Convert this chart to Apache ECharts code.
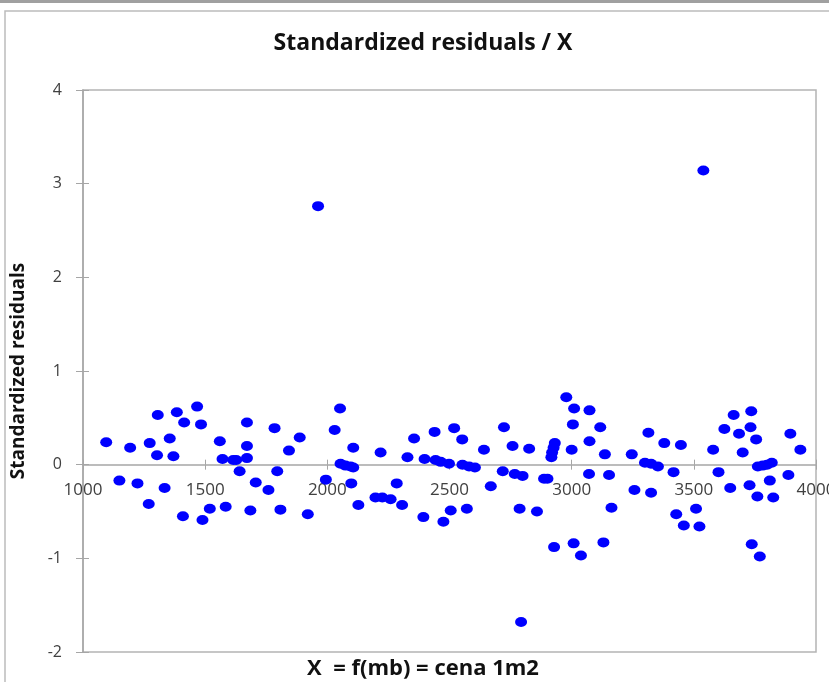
<!DOCTYPE html>
<html>
<head>
<meta charset="utf-8">
<script src="https://cdn.jsdelivr.net/npm/echarts@6/dist/echarts.min.js"></script>
<style>
  html, body { margin: 0; padding: 0; background: #fff; }
  #chartID { width: 829px; height: 682px; }
</style>
</head>
<body>
<div id="chartID"></div>
<script>
// X = cena 1m2
var xValues = [
  1095, 1149, 1193, 1223, 1273, 1269, 1306, 1303, 1334, 1355, 1370, 1384, 1414, 1409, 1467, 1483,
  1489, 1519, 1560, 1571, 1584, 1615, 1627, 1641, 1671, 1671, 1671, 1707, 1685, 1759, 1784, 1795,
  1808, 1843, 1887, 1920, 1962, 1994, 2030, 2052, 2054, 2074, 2095, 2106, 2106, 2098, 2127, 2197,
  2218, 2225, 2259, 2284, 2306, 2328, 2355, 2393, 2398, 2439, 2443, 2464, 2475, 2498, 2505, 2519,
  2552, 2553, 2580, 2604, 2571, 2641, 2669, 2718, 2723, 2758, 2767, 2787, 2793, 2799, 2826, 2858,
  2887, 2901, 2917, 2920, 2926, 2931, 2928, 2978, 3000, 3005, 3010, 3008, 3038, 3071, 3073, 3073,
  3117, 3130, 3136, 3153, 3163, 3246, 3257, 3300, 3314, 3325, 3325, 3353, 3379, 3417, 3428, 3447,
  3459, 3509, 3523, 3539, 3579, 3601, 3625, 3649, 3663, 3685, 3700, 3728, 3732, 3735, 3737, 3755,
  3760, 3762, 3770, 3782, 3800, 3811, 3819, 3825, 3887, 3895, 3936
];

// Standardized residuals
var yValues = [
  0.24, -0.17, 0.18, -0.20, 0.23, -0.42, 0.53, 0.10, -0.25, 0.28, 0.09, 0.56, 0.45, -0.55, 0.62, 0.43,
  -0.59, -0.47, 0.25, 0.06, -0.45, 0.05, 0.05, -0.07, 0.45, 0.20, 0.07, -0.19, -0.49, -0.27, 0.39, -0.07,
  -0.48, 0.15, 0.29, -0.53, 2.76, -0.16, 0.37, 0.60, 0.01, -0.01, -0.02, -0.03, 0.18, -0.20, -0.43, -0.35,
  0.13, -0.35, -0.37, -0.20, -0.43, 0.08, 0.28, -0.56, 0.06, 0.35, 0.05, 0.03, -0.61, 0.01, -0.49, 0.39,
  0.27, 0.00, -0.02, -0.03, -0.47, 0.16, -0.23, -0.07, 0.40, 0.20, -0.10, -0.47, -1.68, -0.12, 0.17, -0.50,
  -0.15, -0.15, 0.08, 0.13, 0.18, 0.23, -0.88, 0.72, 0.16, 0.43, 0.60, -0.84, -0.97, -0.10, 0.25, 0.58,
  0.40, -0.83, 0.11, -0.11, -0.46, 0.11, -0.27, 0.02, 0.34, 0.01, -0.30, -0.02, 0.23, -0.08, -0.53, 0.21,
  -0.65, -0.47, -0.66, 3.14, 0.16, -0.08, 0.38, -0.25, 0.53, 0.33, 0.13, -0.22, 0.40, 0.57, -0.85, 0.27,
  -0.34, -0.02, -0.98, -0.01, 0.00, -0.17, 0.02, -0.35, -0.11, 0.33, 0.16
];

var chartTitle = 'Standardized residuals / X';
var xAxisTitle = 'X  = f(mb) = cena 1m2';
var yAxisTitle = 'Standardized residuals';

var pointData = [];
for (var i = 0; i < xValues.length; i++) {
  pointData.push([xValues[i], yValues[i]]);
}

var myChart = echarts.init(document.getElementById('chartID'));

var fontFam = 'Open Sans';
var axisGray = '#a6a6a6';
var labelGray = '#404040';

// grid box, the x axis sits on y = 0 (4 units above, 2 below)
var gridTop = 90;
var gridBottom = 30;
var gridHeight = 682 - gridTop - gridBottom;
var zeroOffset = -gridHeight * 2 / 6;

var plainNum = function(v){
  return String(v);
};

option = {
  backgroundColor: '#fff',
  animation: false,
  title: [
    {
      text: chartTitle,
      left: 418,
      top: 27,
      textAlign: 'center',
      textStyle: { fontFamily: fontFam, fontSize: 23, fontWeight: 'bold', color: '#111' }
    },
    {
      text: xAxisTitle,
      left: 418,
      top: 653,
      textAlign: 'center',
      textStyle: { fontFamily: fontFam, fontSize: 22, fontWeight: 'bold', color: '#111' }
    }
  ],
  graphic: [
    { type: 'rect', shape: { x: 0, y: 0, width: 829, height: 3 }, style: { fill: '#a0a0a0' } },
    { type: 'rect', shape: { x: 5, y: 11, width: 900, height: 700 }, style: { fill: null, stroke: '#bcbcbc', lineWidth: 1.5 } },
    {
      type: 'text',
      x: 19,
      y: 371,
      rotation: Math.PI / 2,
      style: {
        text: yAxisTitle,
        fontFamily: fontFam, fontSize: 19, fontWeight: 'bold', fill: '#111',
        align: 'center', verticalAlign: 'middle'
      }
    }
  ],
  grid: {
    left: 83,
    right: 13,
    top: gridTop,
    bottom: gridBottom,
    outerBoundsMode: 'none',
    show: true,
    borderColor: '#b4b4b4',
    borderWidth: 1.5
  },
  xAxis: [
    {
      type: 'value',
      min: 1000,
      max: 4000,
      interval: 500,
      position: 'bottom',
      offset: zeroOffset,
      axisLine: { show: true, onZero: false, lineStyle: { color: axisGray, width: 1.5 } },
      axisTick: { show: true, length: 5, lineStyle: { color: axisGray } },
      axisLabel: { margin: 17, fontFamily: fontFam, fontSize: 17, color: labelGray, formatter: plainNum },
      splitLine: { show: false }
    },
    {
      // inner half of the crossing ticks
      type: 'value',
      min: 1000,
      max: 4000,
      interval: 500,
      position: 'bottom',
      offset: zeroOffset,
      axisLine: { show: false, onZero: false },
      axisTick: { show: true, inside: true, length: 5, lineStyle: { color: axisGray } },
      axisLabel: { show: false },
      splitLine: { show: false }
    }
  ],
  yAxis: [
    {
      type: 'value',
      min: -2,
      max: 4,
      interval: 1,
      position: 'left',
      axisLine: { show: true, onZero: false, lineStyle: { color: axisGray, width: 1.5 } },
      axisTick: { show: true, length: 7, lineStyle: { color: axisGray } },
      axisLabel: { margin: 21, fontFamily: fontFam, fontSize: 16, color: labelGray },
      splitLine: { show: false }
    },
    {
      type: 'value',
      min: -2,
      max: 4,
      interval: 1,
      position: 'left',
      axisLine: { show: false, onZero: false },
      axisTick: { show: true, inside: true, length: 6, lineStyle: { color: axisGray } },
      axisLabel: { show: false },
      splitLine: { show: false }
    }
  ],
  series: [
    {
      type: 'scatter',
      symbol: 'circle',
      symbolSize: [12, 10],
      itemStyle: { color: '#0000ff', opacity: 1 },
      data: pointData
    }
  ]
};

myChart.setOption(option);
</script>
</body>
</html>
